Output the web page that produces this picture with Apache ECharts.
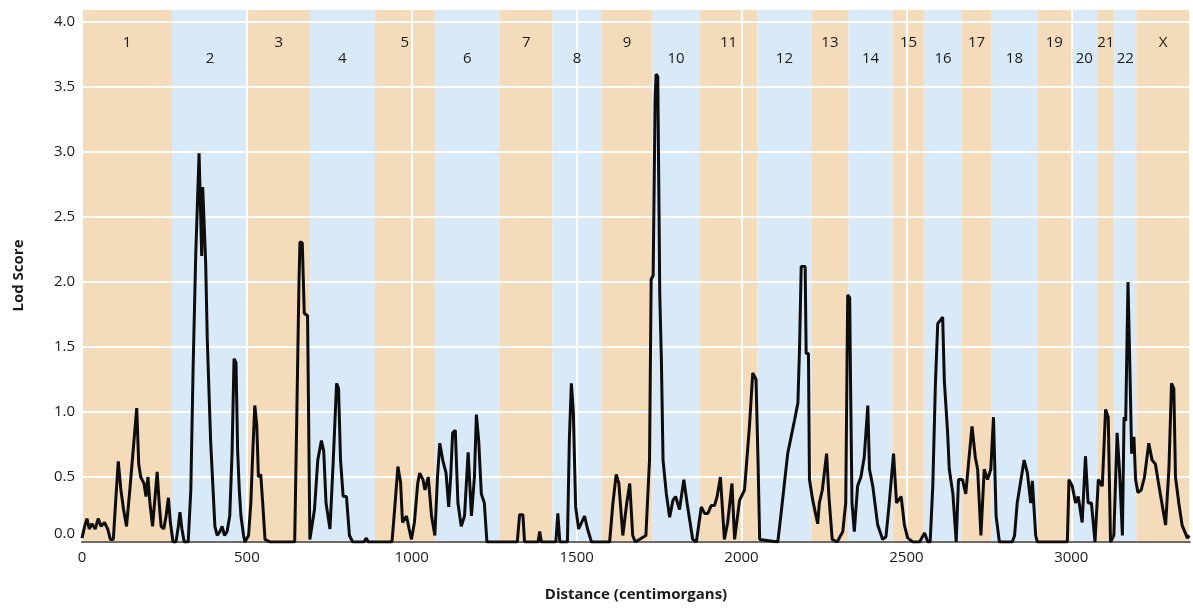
<!DOCTYPE html>
<html>
<head>
<meta charset="utf-8">
<script src="https://cdn.jsdelivr.net/npm/echarts@6/dist/echarts.min.js"></script>
<style>
html,body{margin:0;padding:0;background:#fff;}
#chart{width:1193px;height:609px;}
</style>
</head>
<body>
<div id="chart"></div>
<script>
// Chromosome names and start positions (cM)
var chromNames = ['1','2','3','4','5','6','7','8','9','10','11','12','13','14','15','16','17','18','19','20','21','22','X'];
var chromStarts = [0,273,503,691,888,1070,1267,1427,1576,1730,1873,2048,2212,2324,2458,2555,2667,2758,2897,3000,3079,3130,3197];
var chromEnd = 3360;

// Genome position (cM)
var cmPositions = [
0,8,15,22,30,40,49,58,68,78,86,95,103,110,118,126,135,145,155,166,172,178,188,194,200,206,214,220,228,234,240,248,255,262,268,276,285,292,297,303,310,322,
330,337,345,350,355,360,363,366,372,375,380,390,403,410,418,425,432,440,448,455,461,467,472,477,482,490,494,
505,512,518,524,530,535,542,548,555,570,645,
652,658,661,668,674,684,687,691,
697,705,715,726,733,740,752,762,772,778,784,792,802,811,821,855,862,868,
940,948,958,966,972,984,992,999,1008,1018,1024,1034,1040,1050,1060,1070,
1078,1085,1094,1104,1112,1118,1124,1132,1140,1150,1160,1171,1181,1190,1196,1203,1211,1220,1228,
1320,1327,1337,1342,1383,1388,1393,1437,1443,1449,
1472,1478,1484,1490,1497,1506,1515,1524,1533,1545,
1600,1610,1620,1628,1640,1652,1661,1670,1678,
1710,1721,1726,1732,1738,1741,1746,1750,1752,1757,1762,1772,1782,1792,1800,1812,1825,1836,1852,1863,
1878,1888,1898,1908,1918,1926,1936,1948,1958,1971,1979,1994,2009,2024,2034,2044,2050,2055,2110,
2120,2140,2161,2171,2176,2181,2193,2196,2203,2206,2216,2231,2236,2245,2258,2265,2275,2290,
2307,2316,2322,2328,2331,2335,2342,2352,2362,2372,2383,2388,2398,2413,2428,2438,2448,2461,2470,2484,2494,2504,2520,2540,2555,2565,2572,
2580,2588,2595,2610,2615,2625,2630,2641,2651,2658,2670,2680,2690,2699,2709,2716,2726,2736,2746,2756,2764,2772,2782,
2821,2828,2836,2857,2867,2877,2882,2892,2897,2988,
2993,3003,3013,3021,3033,3043,3051,3061,3072,3082,3094,3104,3112,3119,3129,3139,3146,3155,3160,3165,3172,3178,3183,3190,3195,3202,3212,3222,3235,3245,3255,3270,3286,3296,3304,3311,3316,3326,3336,3352,3358
];
// LOD score at each position
var lodScores = [
0.03,0.12,0.18,0.10,0.14,0.10,0.18,0.12,0.15,0.10,0.02,0.02,0.35,0.62,0.40,0.25,0.12,0.40,0.70,1.03,0.60,0.50,0.45,0.35,0.50,0.30,0.12,0.30,0.54,0.30,0.12,0.10,0.20,0.34,0.15,0.0,0.0,0.12,0.23,0.10,0.0,0.0,
0.40,1.35,2.22,2.60,2.99,2.50,2.20,2.73,2.72,2.15,1.55,0.78,0.12,0.05,0.08,0.12,0.05,0.08,0.20,0.68,1.41,1.38,0.70,0.40,0.20,0.05,0.0,
0.05,0.30,0.70,1.05,0.90,0.50,0.52,0.30,0.02,0.0,0.0,
1.07,2.00,2.31,2.30,1.76,1.74,1.02,0.02,
0.02,0.25,0.63,0.78,0.70,0.30,0.10,0.63,1.22,1.18,0.63,0.35,0.35,0.05,0.0,0.0,0.03,0.0,
0.0,0.25,0.58,0.46,0.15,0.20,0.10,0.02,0.15,0.45,0.53,0.48,0.40,0.50,0.20,0.05,
0.50,0.76,0.63,0.53,0.27,0.50,0.84,0.86,0.30,0.12,0.20,0.69,0.20,0.50,0.98,0.78,0.37,0.30,0.0,
0.0,0.21,0.21,0.0,0.0,0.08,0.0,0.0,0.22,0.0,
0.0,0.80,1.22,1.00,0.27,0.10,0.15,0.20,0.10,0.0,
0.0,0.30,0.52,0.45,0.05,0.30,0.45,0.05,0.0,
0.05,0.63,2.02,2.05,3.40,3.60,3.58,2.50,1.91,1.40,0.63,0.37,0.19,0.32,0.35,0.25,0.48,0.28,0.02,0.0,
0.27,0.22,0.22,0.28,0.28,0.35,0.50,0.02,0.15,0.45,0.02,0.32,0.40,0.89,1.30,1.25,0.63,0.02,0.0,
0.22,0.68,0.94,1.07,1.50,2.12,2.12,1.45,1.45,0.48,0.32,0.14,0.30,0.40,0.68,0.35,0.02,0.0,
0.08,0.30,1.90,1.88,1.14,0.30,0.08,0.43,0.50,0.65,1.05,0.56,0.43,0.13,0.02,0.04,0.30,0.68,0.30,0.35,0.13,0.03,0.0,0.0,0.07,0.0,0.0,
0.43,1.22,1.68,1.73,1.24,0.84,0.56,0.37,0.0,0.48,0.48,0.37,0.65,0.89,0.65,0.56,0.05,0.56,0.48,0.56,0.96,0.20,0.0,
0.0,0.05,0.30,0.63,0.53,0.30,0.47,0.05,0.0,0.0,
0.48,0.43,0.30,0.35,0.15,0.66,0.30,0.30,0.0,0.48,0.43,1.02,0.96,0.0,0.05,0.84,0.56,0.05,0.96,0.93,2.00,1.30,0.68,0.81,0.48,0.38,0.40,0.50,0.76,0.63,0.60,0.37,0.13,0.56,1.22,1.18,0.50,0.30,0.13,0.03,0.05
];

var xTickInterval = 500;
var yTickInterval = 0.5;

var ORANGE = '#f4dbba';
var BLUE = '#d8eaf8';
var FONT = 'Open Sans';

function bandEnd(i) { return i + 1 < chromStarts.length ? chromStarts[i + 1] : chromEnd; }

// coloured chromosome bands (drawn below the grid lines)
var bandData = chromNames.map(function (name, i) {
  return [
    { name: name, xAxis: chromStarts[i], itemStyle: { color: i % 2 === 0 ? ORANGE : BLUE }, label: { show: false } },
    { xAxis: bandEnd(i) }
  ];
});

// chromosome labels (drawn above the grid lines)
var bandLabelData = chromNames.map(function (name, i) {
  var high = (i % 2 === 0);
  return [
    {
      name: name,
      xAxis: chromStarts[i],
      itemStyle: { color: 'rgba(0,0,0,0)' },
      label: {
        show: true,
        position: 'insideTop',
        distance: high ? 26 : 42,
        color: '#1a1a1a',
        fontSize: 15,
        fontFamily: FONT
      }
    },
    { xAxis: bandEnd(i) }
  ];
});

var lineData = cmPositions.map(function (x, i) { return [x, lodScores[i]]; });

var chart = echarts.init(document.getElementById('chart'), null, { renderer: 'canvas' });
chart.setOption({
  animation: false,
  backgroundColor: '#ffffff',
  grid: { left: 82, right: 3, top: 9, bottom: 67, containLabel: false },
  xAxis: {
    type: 'value',
    min: 0,
    max: chromEnd,
    interval: xTickInterval,
    z: 3,
    name: 'Distance (centimorgans)',
    nameLocation: 'middle',
    nameGap: 45,
    nameTextStyle: { fontFamily: FONT, fontWeight: 'bold', fontSize: 15, color: '#1a1a1a' },
    axisLine: { show: true, onZero: false, lineStyle: { color: '#6f6a66', width: 2 } },
    axisTick: { show: false },
    axisLabel: {
      fontFamily: FONT, fontSize: 15, color: '#1a1a1a', margin: 8, showMaxLabel: false,
      formatter: function (v) { return String(v); }
    },
    splitLine: { show: true, lineStyle: { color: '#ffffff', width: 2 } }
  },
  yAxis: {
    type: 'value',
    min: 0,
    max: 4.1,
    interval: yTickInterval,
    z: 3,
    name: 'Lod Score',
    nameLocation: 'middle',
    nameGap: 56,
    nameTextStyle: { fontFamily: FONT, fontWeight: 'bold', fontSize: 15, color: '#1a1a1a' },
    axisLine: { show: false },
    axisTick: { show: false },
    axisLabel: {
      fontFamily: FONT, fontSize: 15, color: '#1a1a1a', margin: 7, showMaxLabel: false,
      formatter: function (v) { return v === 0 ? '{z|0.0}' : v.toFixed(1); },
      rich: { z: { fontFamily: FONT, fontSize: 15, color: '#1a1a1a', padding: [0, 0, 16, 0] } }
    },
    splitLine: { show: true, lineStyle: { color: '#ffffff', width: 2 } }
  },
  series: [
    {
      type: 'line',
      z: 0,
      data: [],
      silent: true,
      markArea: { silent: true, z: 0, label: { show: false }, data: bandData }
    },
    {
      type: 'line',
      z: 4,
      data: [],
      silent: true,
      markArea: { silent: true, z: 4, data: bandLabelData }
    },
    {
      type: 'line',
      z: 5,
      data: lineData,
      symbol: 'none',
      showSymbol: false,
      lineStyle: { color: '#0d0d0d', width: 3 },
      clip: true
    }
  ]
});
</script>
</body>
</html>
